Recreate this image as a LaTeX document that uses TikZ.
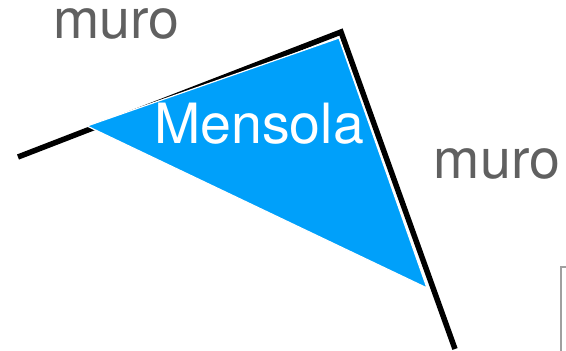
\documentclass[tikz,border=0pt]{standalone}
\usepackage{fontspec}
\setmainfont{TeX Gyre Heros}
\definecolor{shelf}{RGB}{0,160,250}
\definecolor{walltext}{RGB}{96,96,96}
\definecolor{boxgray}{RGB}{160,160,160}
\begin{document}
\begin{tikzpicture}[x=1pt,y=-1pt,
  wall/.style={line width=5.5pt,black,line join=miter},
  lbl/.style={font=\fontsize{55.5}{60}\selectfont,inner sep=0pt,anchor=base}]
\useasboundingbox (0,0) rectangle (566,351);
\clip (0,0) rectangle (566,351);
\coordinate (wA) at (18,157);
\coordinate (wC) at (341,32);
\coordinate (wB) at (455,349);
\draw[wall] (wA) -- (wC) -- (wB);
\coordinate (tA) at (87,126);
\coordinate (tB) at (339,38);
\coordinate (tC) at (427,288);
\filldraw[fill=shelf,draw=white,line width=1.2pt,line join=miter] (tA) -- (tB) -- (tC) -- cycle;
\node[lbl,text=walltext,text height=27pt] (muro1) at (116.5,38) {muro};
\node[lbl,text=walltext,text height=27pt] (muro2) at (497,178) {muro};
\node[lbl,text=white] (mensola) at (259,143) {Mensola};
\draw[boxgray,line width=2.2pt] (561,267) rectangle (620,400);
\end{tikzpicture}
\end{document}
